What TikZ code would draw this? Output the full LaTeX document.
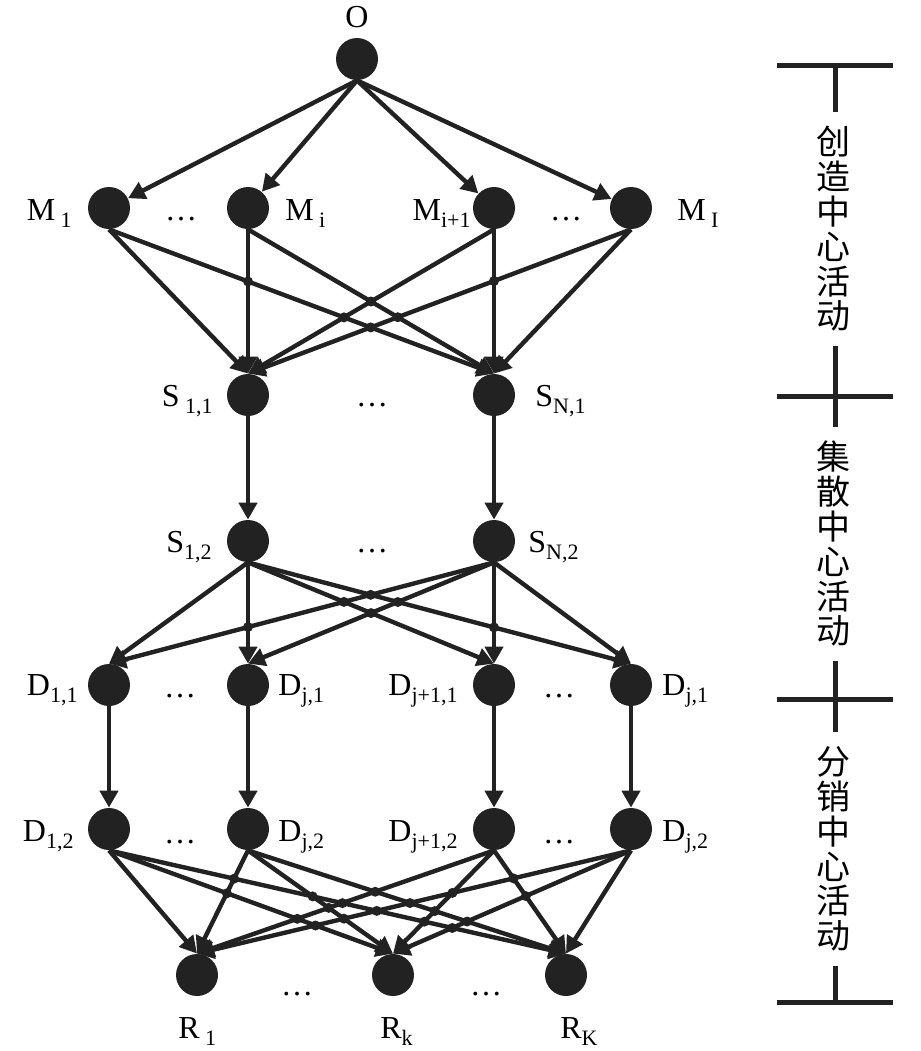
\documentclass[tikz,border=0pt]{standalone}
\usepackage{fontspec}
\setmainfont{Liberation Serif}
\newfontfamily\cjk{Noto Sans CJK SC}
\usetikzlibrary{arrows.meta,positioning,calc}
\definecolor{ink}{HTML}{222222}
\newcommand{\lowsub}[1]{\raisebox{-3.5pt}{\fontsize{11}{11}\selectfont #1}}

\begin{document}
\begin{tikzpicture} [
  x=0.5pt, y=-0.5pt,
  solid node/.style= {circle,fill=ink,inner sep=0,minimum size=21pt},
  junction/.style= {fill=ink},
  flow/.style= {line width=2.2pt,draw=ink,-{Triangle[length=8.5pt,width=9pt]}},
  lbl/.style= {inner sep=0,font=\fontsize{16}{16}\selectfont},
  phase/.style= {font=\cjk\fontsize{17}{17.4}\selectfont,align=center,inner xsep=0,inner ysep=7pt},
  bar/.style= {line width=2.5pt,draw=ink}
]
\useasboundingbox (0,0) rectangle (921,1051);

% nodes
\node (O) [solid node] at (357,59) {};
\foreach \n/\x in {1/109,2/248,3/494,4/631} {
  \node (M\n) [solid node] at (\x,208) {};
  \node (D\n1) [solid node] at (\x,685) {};
  \node (D\n2) [solid node] at (\x,829) {};
}
\foreach \n/\x in {1/248,2/494} {
  \node (S\n1) [solid node] at (\x,395) {};
  \node (S\n2) [solid node] at (\x,541) {};
}
\foreach \n/\x in {1/197,2/393,3/566}
  \node (R\n) [solid node] at (\x,975) {};

% labels
\node (lO) [lbl,anchor=base] at (357,27) {O};
\node (lM1) [lbl,anchor=base east] at (72,220) {M\,\lowsub{1}};
\node (lM2) [lbl,anchor=base west] at (285,220) {M\,\lowsub{i}};
\node (lM3) [lbl,anchor=base east] at (471,220) {M\lowsub{i+1}};
\node (lM4) [lbl,anchor=base west] at (677,220) {M\,\lowsub{I}};
\node (lS11) [lbl,anchor=base east] at (213,406) {S\,\lowsub{1,1}};
\node (lS21) [lbl,anchor=base west] at (535,406) {S\lowsub{N,1}};
\node (lS12) [lbl,anchor=base east] at (212,552) {S\lowsub{1,2}};
\node (lS22) [lbl,anchor=base west] at (528,552) {S\lowsub{N,2}};
\node (lD11) [lbl,anchor=base east] at (78,695) {D\lowsub{1,1}};
\node (lD21) [lbl,anchor=base west] at (278,695) {D\lowsub{j,1}};
\node (lD31) [lbl,anchor=base east] at (458,695) {D\lowsub{j+1,1}};
\node (lD41) [lbl,anchor=base west] at (662,695) {D\lowsub{j,1}};
\node (lD12) [lbl,anchor=base east] at (74,841) {D\lowsub{1,2}};
\node (lD22) [lbl,anchor=base west] at (278,841) {D\lowsub{j,2}};
\node (lD32) [lbl,anchor=base east] at (458,841) {D\lowsub{j+1,2}};
\node (lD42) [lbl,anchor=base west] at (662,841) {D\lowsub{j,2}};
\node (lR1) [lbl,anchor=base west] at (178,1038) {R\,\lowsub{1}};
\node (lR2) [lbl,anchor=base west] at (380,1038) {R\lowsub{k}};
\node (lR3) [lbl,anchor=base west] at (560,1038) {R\lowsub{K}};
\foreach \n/\x/\y in {a/181/220,b/566/220,c/372/406,d/372/552,e/180/697,f/559/697,g/180/843,h/559/843,i/297/995,j/486/995}
  \node (dots\n) [lbl,anchor=base] at (\x,\y) {\dots};

% connectors
\foreach \m in {1,...,4} \draw [flow] (O.south) -- (M\m);
\foreach \m in {1,...,4} \foreach \s in {1,2} \draw [flow] (M\m.south) -- (S\s1.north);
\foreach \s in {1,2} \draw [flow] (S\s1) -- (S\s2);
\foreach \s in {1,2} \foreach \t in {1,...,4} \draw [flow] (S\s2.south) -- (D\t1.north);
\foreach \t in {1,...,4} \draw [flow] (D\t1) -- (D\t2);
\foreach \t in {1,...,4} \foreach \r in {1,2,3} \draw [flow] (D\t2.south) -- (R\r.north);

% junction dots
\foreach \ma in {1,...,4} \foreach \mb in {1,...,4} \foreach \ta in {1,2} \foreach \tb in {1,2} {
  \ifnum\ma<\mb \ifnum\ta>\tb
    \fill [junction] (intersection of M\ma.south--S\ta1.north and M\mb.south--S\tb1.north) circle [radius=2.5pt];
  \fi\fi}
\foreach \ta in {1,...,4} \foreach \tb in {1,...,4} {
  \ifnum\ta>\tb
    \fill [junction] (intersection of S12.south--D\ta1.north and S22.south--D\tb1.north) circle [radius=2.5pt];
  \fi}
\foreach \ma in {1,...,4} \foreach \mb in {1,...,4} \foreach \ta in {1,2,3} \foreach \tb in {1,2,3} {
  \ifnum\ma<\mb \ifnum\ta>\tb
    \fill [junction] (intersection of D\ma2.south--R\ta.north and D\mb2.south--R\tb.north) circle [radius=2.5pt];
  \fi\fi}

% phases
\coordinate (b0) at (835,65);
\coordinate (b1) at (835,396);
\coordinate (b2) at (835,699);
\coordinate (b3) at (835,1002);
\node (P1) [phase] at (833,229) {创\\造\\中\\心\\活\\动};
\node (P2) [phase] at (833,544) {集\\散\\中\\心\\活\\动};
\node (P3) [phase] at (833,849) {分\\销\\中\\心\\活\\动};
\foreach \b in {b0,b1,b2,b3} \draw [bar] ($(\b)+(-58,0)$) -- ($(\b)+(58,0)$);
\draw [bar] (b0) -- (P1.north -| b0);
\draw [bar] (P1.south -| b0) -- (P2.north -| b0);
\draw [bar] (P2.south -| b0) -- (P3.north -| b0);
\draw [bar] (P3.south -| b0) -- (b3);
\end{tikzpicture}
\end{document}
